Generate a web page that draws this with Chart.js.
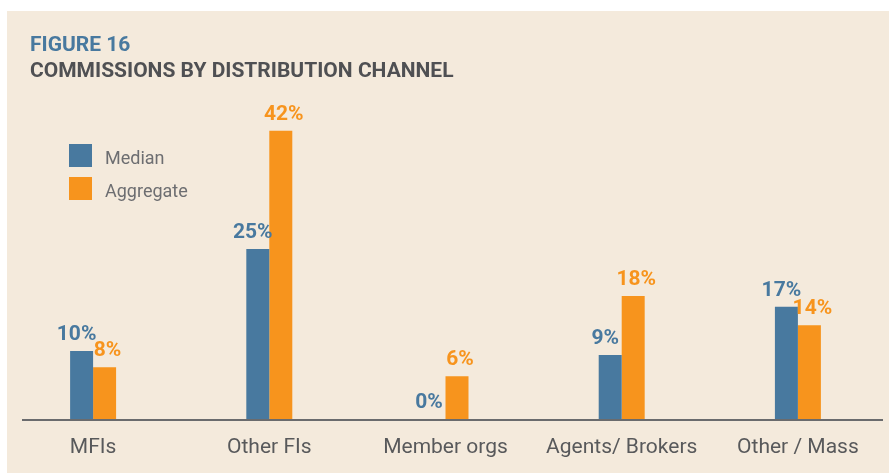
<!DOCTYPE html>
<html><head><meta charset="utf-8">
<script src="https://cdn.jsdelivr.net/npm/chart.js@4.4.1/dist/chart.umd.min.js"></script>
<style>html,body{margin:0;padding:0;background:#fff;overflow:hidden}canvas{display:block}</style>
</head><body>
<canvas id="c" width="889" height="473"></canvas>
<script>
// ---- data ----
const categories = ['MFIs', 'Other FIs', 'Member orgs', 'Agents/ Brokers', 'Other / Mass'];
const seriesNames = ['Median', 'Aggregate'];
const medianValues = [10, 25, 0, 9.4, 16.5];
const aggregateValues = [7.6, 42.4, 6.3, 18.1, 13.8];
const figureLabel = 'FIGURE 16';
const chartTitle = 'COMMISSIONS BY DISTRIBUTION CHANNEL';

// ---- style ----
const BLUE = '#48799f';
const ORANGE = '#f7941d';
const BEIGE = '#f4eadc';
const FONT = "Roboto, 'Liberation Sans', sans-serif";

const bgPlugin = {
  id: 'bg',
  beforeDraw(chart) {
    const ctx = chart.ctx;
    ctx.save();
    ctx.fillStyle = '#ffffff';
    ctx.fillRect(0, 0, chart.width, chart.height);
    ctx.fillStyle = BEIGE;
    ctx.fillRect(7, 11, chart.width - 7, chart.height - 11);
    ctx.restore();
  }
};

const decorPlugin = {
  id: 'decor',
  afterDatasetsDraw(chart) {
    const ctx = chart.ctx;
    const y0 = chart.scales.y.getPixelForValue(0);
    ctx.save();
    // baseline
    ctx.strokeStyle = '#6a6b6d';
    ctx.lineWidth = 2;
    ctx.beginPath();
    ctx.moveTo(22, y0 + 1);
    ctx.lineTo(883, y0 + 1);
    ctx.stroke();
    // value labels
    ctx.font = 'bold 21px ' + FONT;
    ctx.textAlign = 'center';
    ctx.textBaseline = 'alphabetic';
    chart.data.datasets.forEach((ds, di) => {
      const meta = chart.getDatasetMeta(di);
      const dx = di === 0 ? -5 : 3;
      ctx.fillStyle = ds.backgroundColor;
      meta.data.forEach((bar, i) => {
        const v = ds.data[i];
        ctx.fillText(Math.round(v) + '%', bar.x + dx, bar.y - 11);
      });
    });
    // title
    ctx.textAlign = 'left';
    ctx.font = 'bold 21px ' + FONT;
    ctx.fillStyle = BLUE;
    ctx.fillText(figureLabel, 30, 51);
    ctx.fillStyle = '#4f5053';
    ctx.fillText(chartTitle, 30, 77);
    // legend
    ctx.font = '18px ' + FONT;
    chart.data.datasets.forEach((ds, di) => {
      const top = 144 + di * 33;
      ctx.fillStyle = ds.backgroundColor;
      ctx.fillRect(69, top, 23, 23);
      ctx.fillStyle = '#6d6e71';
      ctx.fillText(ds.label, 105, top + 20);
    });
    ctx.restore();
  }
};

new Chart(document.getElementById('c'), {
  type: 'bar',
  data: {
    labels: categories,
    datasets: [
      { label: seriesNames[0], data: medianValues, backgroundColor: BLUE },
      { label: seriesNames[1], data: aggregateValues, backgroundColor: ORANGE }
    ]
  },
  options: {
    responsive: false,
    animation: false,
    devicePixelRatio: 1,
    layout: { padding: { left: 5, right: 3, top: 90, bottom: 0 } },
    datasets: { bar: { categoryPercentage: 0.261, barPercentage: 1, borderWidth: 0 } },
    plugins: { legend: { display: false }, title: { display: false }, tooltip: { enabled: false } },
    scales: {
      x: {
        grid: { display: false, drawTicks: false },
        border: { display: false },
        ticks: { color: '#58595b', font: { family: FONT, size: 21 }, padding: 16, maxRotation: 0, autoSkip: false },
        afterFit(scale) { scale.height = 54; }
      },
      y: { display: false, min: 0, max: 48.4 }
    }
  },
  plugins: [bgPlugin, decorPlugin]
});
</script>
</body></html>
